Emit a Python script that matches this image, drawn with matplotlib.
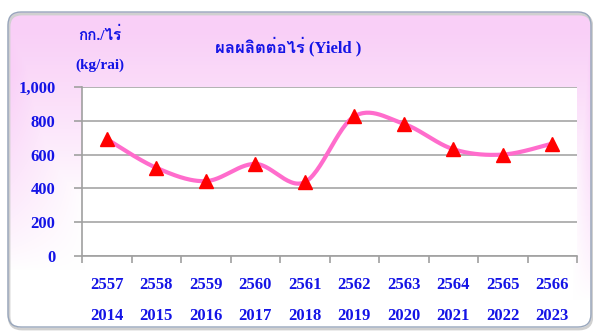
import numpy as np
import matplotlib
matplotlib.use('Agg')
import matplotlib.pyplot as plt
from matplotlib import font_manager
from matplotlib.ft2font import FT2Font
from matplotlib.patches import FancyBboxPatch
from matplotlib.transforms import blended_transform_factory

years_be = ['2557', '2558', '2559', '2560', '2561', '2562', '2563', '2564', '2565', '2566']
years_ad = ['2014', '2015', '2016', '2017', '2018', '2019', '2020', '2021', '2022', '2023']
yield_kg = [692, 522, 443, 545, 437, 826, 782, 632, 600, 665]
yticks = [0, 200, 400, 600, 800, 1000]


def thai_family():
    # installed font with Thai glyphs, a bold face preferred
    found = []
    for f in font_manager.fontManager.ttflist:
        try:
            if 0x0E01 in FT2Font(f.fname).get_charmap():
                found.append(f)
        except Exception:
            pass
    if not found:
        return 'DejaVu Sans'
    bold = [f for f in found if str(f.weight) in ('bold', '700', '800', '900')
            or (isinstance(f.weight, int) and f.weight >= 700)]
    return (bold or found)[0].name


fam = ['Liberation Serif', thai_family(), 'DejaVu Sans']
blue = '#1414e6'


def smooth(xs, ys, n=30):
    # Catmull-Rom through the points, drawn as cubic Bezier pieces
    p = np.column_stack([xs, ys]).astype(float)
    p = np.vstack([p[0], p, p[-1]])
    out = []
    t = np.linspace(0, 1, n)[:, None]
    for i in range(1, len(p) - 2):
        p0, p1, p2, p3 = p[i - 1], p[i], p[i + 1], p[i + 2]
        c1 = p1 + (p2 - p0) / 6
        c2 = p2 - (p3 - p1) / 6
        seg = ((1 - t) ** 3) * p1 + 3 * ((1 - t) ** 2) * t * c1 + 3 * (1 - t) * t ** 2 * c2 + t ** 3 * p2
        out.append(seg)
    out = np.vstack(out)
    return out[:, 0], out[:, 1]


W, H = 593, 331
fig = plt.figure(figsize=(W / 100, H / 100), dpi=100)

# pink panel behind everything
bg = fig.add_axes([0, 0, 1, 1])
bg.set_xlim(0, W)
bg.set_ylim(H, 0)
bg.axis('off')
yy, xx = np.mgrid[0:H, 0:W]
top = np.clip((200 - yy) / 170, 0, 1)
left = np.clip((85 - xx) / 75, 0, 1) * np.clip((270 - yy) / 200, 0, 1)
right = np.clip((xx - 572) / 18, 0, 1) * np.clip((300 - yy) / 240, 0, 1)
p = np.maximum(np.maximum(top, left), right) ** 0.8
pink = np.array([249, 207, 247]) / 255
img = (1 - p[..., None]) * np.ones(3) + p[..., None] * pink
im = bg.imshow(img, extent=[0, W, H, 0], interpolation='bilinear', zorder=0)
shadow = FancyBboxPatch((9, 14), 583, 315, boxstyle='round,pad=0,rounding_size=13',
                        fc='none', ec='#d0d0d0', lw=2, zorder=1)
bg.add_patch(shadow)
frame = FancyBboxPatch((8, 12), 583, 315, boxstyle='round,pad=0,rounding_size=13',
                       fc='none', ec='#98a6bc', lw=1, zorder=2)
bg.add_patch(frame)
im.set_clip_path(frame)

bg.text(100, 35, 'กก./ไร่', family=fam, fontsize=11, fontweight='bold', color=blue,
        ha='center', va='center')
bg.text(100, 65, '(kg/rai)', family=fam, fontsize=11, fontweight='bold', color=blue,
        ha='center', va='center')
bg.text(288, 47, 'ผลผลิตต่อไร่ (Yield )', family=fam, fontsize=12, fontweight='bold',
        color=blue, ha='center', va='center')

ax = fig.add_axes([82 / W, 1 - 256 / H, 495 / W, 169 / H])
ax.set_facecolor('white')
x = np.arange(len(yield_kg)) + 0.5
sx, sy = smooth(x, yield_kg)
ax.plot(sx, sy, color='#ff6ccc', lw=3, solid_capstyle='round', zorder=3)
ax.plot(x, yield_kg, ls='none', marker='^', ms=10, color='#ff0000', zorder=4)

ax.set_xlim(0, len(yield_kg))
ax.set_ylim(0, 1000)
ax.set_xticks(np.arange(len(yield_kg) + 1))
ax.set_xticklabels([])
ax.set_yticks(yticks)
ax.set_yticklabels([f'{v:,}' for v in yticks], family=fam, fontsize=12,
                   fontweight='bold', color=blue)
ax.tick_params(axis='x', direction='out', length=5, color='#a0a0a0', width=1.2)
ax.tick_params(axis='y', direction='out', length=6, color='#a0a0a0', width=1.2, pad=13)
ax.grid(axis='y', color='#a6a6a6', lw=1.2)
ax.set_axisbelow(True)
for s in ['top', 'right']:
    ax.spines[s].set_visible(False)
for s in ['left', 'bottom']:
    ax.spines[s].set_color('#a0a0a0')
    ax.spines[s].set_linewidth(1.2)

tr = blended_transform_factory(ax.transData, ax.transAxes)
for xi, be, ad in zip(x, years_be, years_ad):
    ax.text(xi, -0.17, be, transform=tr, family=fam, fontsize=12, fontweight='bold',
            color=blue, ha='center', va='center')
    ax.text(xi, -0.355, ad, transform=tr, family=fam, fontsize=12, fontweight='bold',
            color=blue, ha='center', va='center')

fig.savefig('out.png', dpi=100)
